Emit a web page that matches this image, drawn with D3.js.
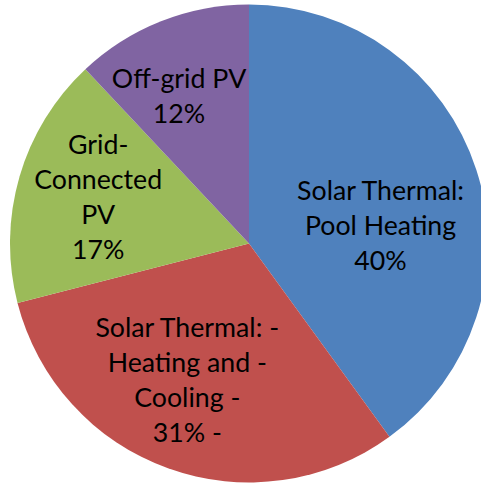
<!DOCTYPE html>
<html>
<head>
<meta charset="utf-8">
<script src="https://cdn.jsdelivr.net/npm/d3@7"></script>
<style>
  html, body { margin: 0; padding: 0; background: #ffffff; overflow: hidden; }
  svg { display: block; }
</style>
</head>
<body>
<svg id="chart" width="481" height="483"></svg>
<script>
// ---- data ----
const categories = ["Solar Thermal: Pool Heating", "Solar Thermal: Heating and Cooling", "Grid-Connected PV", "Off-grid PV"];
const values = [40, 31, 17, 12];
const labelLines = [
  ["Solar Thermal:", "Pool Heating", "40%"],
  ["Solar Thermal: -", "Heating and -", "Cooling -", "31% -"],
  ["Grid-", "Connected", "PV", "17%"],
  ["Off-grid PV", "12%"]
];
const colors = ["#4F81BD", "#C0504D", "#9BBB59", "#8064A2"];

// ---- layout (style) ----
const W = 481, H = 483;
const cx = 249, cy = 243.5, R = 239;
const labelRadiusFrac = [0.555, 0.63, 0.66, 0.68];
const labelAngleShift = [10.6, 4.4, 0.8, -3.9]; // degrees
const fontFamily = "Lato, 'Open Sans', sans-serif";
const lineH = 35;

const svg = d3.select("#chart");
const g = svg.append("g").attr("transform", `translate(${cx},${cy})`);

const pie = d3.pie().sort(null).value(d => d)(values);
const arc = d3.arc().innerRadius(0).outerRadius(R);

g.selectAll("path.slice").data(pie).join("path")
  .attr("class", "slice")
  .attr("d", arc)
  .attr("fill", (d, i) => colors[i]);

// font size matched to reference text width
const probe = svg.append("text").attr("font-family", fontFamily).attr("font-size", 100).text("Solar Thermal:");
const wProbe = probe.node().getComputedTextLength();
probe.remove();
const fs = 100 * 167 / wProbe;

pie.forEach((d, i) => {
  const mid = (d.startAngle + d.endAngle) / 2 + labelAngleShift[i] * Math.PI / 180;
  const r = R * labelRadiusFrac[i];
  const x = Math.sin(mid) * r;
  const y = -Math.cos(mid) * r;
  const lines = labelLines[i];
  const t = g.append("text")
    .attr("text-anchor", "middle")
    .attr("font-family", fontFamily)
    .attr("font-size", fs)
    .attr("fill", "#000");
  lines.forEach((ln, j) => {
    t.append("tspan")
      .attr("x", x)
      .attr("y", y - (lines.length - 1) / 2 * lineH + j * lineH + fs * 0.33)
      .text(ln);
  });
});
</script>
</body>
</html>
